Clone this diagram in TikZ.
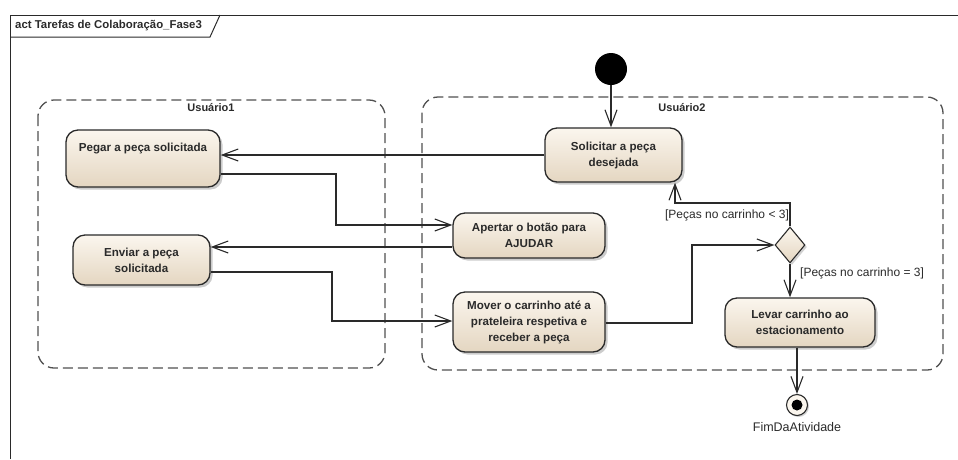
\documentclass[tikz,border=0pt]{standalone}
\usepackage{fontspec}
\setmainfont{Liberation Sans}
\usetikzlibrary{arrows.meta,shapes.geometric,shadows}
\definecolor{inkc}{HTML}{2A2A2A}
\definecolor{creamtop}{HTML}{FBF6EE}
\definecolor{creambot}{HTML}{E4D6C1}
\definecolor{dashc}{HTML}{505050}
\tikzset{
  actbox/.style={draw=inkc, line width=1.3pt, rounded corners=12pt,
    top color=creamtop, bottom color=creambot,
    drop shadow={shadow xshift=2.5pt, shadow yshift=-2.5pt, fill=black!40},
    align=center, text=inkc, inner sep=0pt,
    font=\fontsize{11.6}{16}\selectfont\bfseries},
  flow/.style={draw=inkc, line width=1.1pt, -{Straight Barb[length=16pt,width=12pt,line width=1.1pt]}},
  lane/.style={draw=dashc, line width=1.3pt, dash pattern=on 10pt off 5pt, rounded corners=16pt},
  lanetitle/.style={font=\fontsize{11}{13}\selectfont\bfseries, text=inkc},
  guard/.style={font=\fontsize{12}{14}\selectfont, text=inkc, inner sep=0pt},
}
\begin{document}
\begin{tikzpicture}[x=1pt,y=-1pt]
\useasboundingbox (0,0) rectangle (958,459);
% frame
\draw[inkc, line width=1pt] (10,459) -- (10,15) -- (958,15);
\draw[inkc, line width=1pt] (10,37) -- (210,37) -- (220,15);
\node[anchor=west, inner sep=0pt, font=\fontsize{11.4}{13}\selectfont\bfseries, text=inkc] (title) at (15,26) {act Tarefas de Colaboração\_Fase3};
% partitions
\draw[lane] (38,100) rectangle (385,368);
\draw[lane] (422,97) rectangle (943,370);
\node[lanetitle] (u1) at (211,108) {Usuário1};
\node[lanetitle] (u2) at (682,108) {Usuário2};
% activities
\node[actbox, minimum width=154pt, minimum height=57pt, text height=8.5pt, text depth=22.5pt, inner ysep=13pt] (peg) at (143,158.5) {Pegar a peça solicitada};
\node[actbox, minimum width=137pt, minimum height=50pt] (env) at (141.5,260) {Enviar a peça\\solicitada};
\node[actbox, minimum width=137pt, minimum height=54pt] (sol) at (613.5,155) {Solicitar a peça\\desejada};
\node[actbox, minimum width=152pt, minimum height=45pt] (ape) at (529,235.5) {Apertar o botão para\\AJUDAR};
\node[actbox, minimum width=152pt, minimum height=60pt] (mov) at (529,322) {Mover o carrinho até a\\prateleira respetiva e\\receber a peça};
\node[actbox, minimum width=150pt, minimum height=49pt] (lev) at (800,322.5) {Levar carrinho ao\\estacionamento};
% control nodes
\node[draw=inkc, line width=1.1pt, diamond, minimum width=30pt, minimum height=36pt, inner sep=0pt,
  top color=creamtop, bottom color=creambot,
  drop shadow={shadow xshift=2pt, shadow yshift=-2pt, fill=black!35}] (dec) at (790,245) {};
\node[circle, fill=black, minimum size=32pt, inner sep=0pt] (init) at (611,69) {};
\node[circle, draw=inkc, line width=1.1pt, fill=creamtop, minimum size=21pt, inner sep=0pt,
  drop shadow={shadow xshift=1.5pt, shadow yshift=-1.5pt, fill=black!35}] (fin) at (797,405) {};
\node[circle, fill=black, minimum size=11pt, inner sep=0pt] (findot) at (fin) {};
\node[guard, font=\fontsize{12.5}{14}\selectfont] (finlbl) at (797,427) {FimDaAtividade};
% flows
\draw[flow] (init.south) -- (init.south |- sol.north);
\draw[flow] (sol.west) -- (sol.west -| peg.east);
\draw[flow] (peg.east |- 0,174) -| (336,225) -- (ape.west |- 0,225);
\draw[flow] (ape.west |- 0,247) -- (env.east |- 0,247);
\draw[flow] (env.east |- 0,272) -| (332,321) -- (mov.west |- 0,321);
\draw[flow] (mov.east |- 0,323) -| (692,245) -- (dec.west);
\draw[flow] (dec.north) |- (675,203) -- (675,0 |- sol.south);
\draw[flow] (dec.south) -- (dec.south |- lev.north);
\draw[flow] (lev.south -| fin.north) -- (fin.north);
% guards
\node[guard] (g1) at (727,215) {[Peças no carrinho < 3]};
\node[guard, anchor=west] (g2) at (800,273) {[Peças no carrinho = 3]};
\end{tikzpicture}
\end{document}
